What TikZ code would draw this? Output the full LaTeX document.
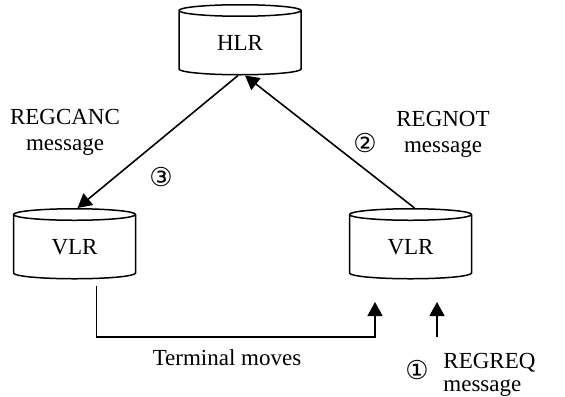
\documentclass[tikz,border=0pt]{standalone}
\usepackage{fontspec}
\setmainfont{Liberation Serif}
\newfontfamily\circfont{DejaVu Sans}
\usepackage{tikz}
\usetikzlibrary{shapes.geometric, arrows.meta, positioning}

\begin{document}
\begin{tikzpicture}[
    x=0.5pt, y=-0.5pt,
    db/.style={draw, cylinder, shape border rotate=90, aspect=0.25, minimum width=61pt, minimum height=35pt, inner sep=0pt, line width=0.75pt, font=\fontsize{11.5}{13}\selectfont},
    lbl/.style={font=\fontsize{11.5}{13}\selectfont, align=center, inner sep=0pt},
    num/.style={font=\circfont\fontsize{13}{14}\selectfont, inner sep=0pt},
    arrow/.style={-{Triangle[length=7pt, width=7.5pt]}, line width=0.8pt},
]
\useasboundingbox (0,0) rectangle (565,396);

\node[db] (hlr) at (240,43) {HLR};
\node[db] (vlrL) at (74.5,247) {VLR};
\node[db] (vlrR) at (410.5,247) {VLR};

\coordinate (moveEnd) at (375,302);
\coordinate (reqStart) at (437,337);

\draw[arrow] ([xshift=2pt]vlrR.north) -- ([xshift=2.5pt]hlr.south);
\draw[arrow] ([xshift=-1pt]hlr.south) -- ([xshift=1.5pt]vlrL.north);
\draw[arrow] ([xshift=11pt, yshift=-3pt]vlrL.south) |- (moveEnd |- reqStart) -- (moveEnd);
\draw[arrow] (reqStart) -- (reqStart |- moveEnd);

\node[lbl] (canc) at (65,132) {REGCANC\\message};
\node[num] (n3) at (161,177) {③};
\node[num] (n2) at (365,143) {②};
\node[lbl] (not) at (443,134) {REGNOT\\message};
\node[lbl] (moves) at (227,358) {Terminal moves};
\node[num] (n1) at (417,370) {①};
\node[lbl, align=left, anchor=west] (req) at (443,375) {REGREQ\\[-1.5pt]message};
\end{tikzpicture}
\end{document}
